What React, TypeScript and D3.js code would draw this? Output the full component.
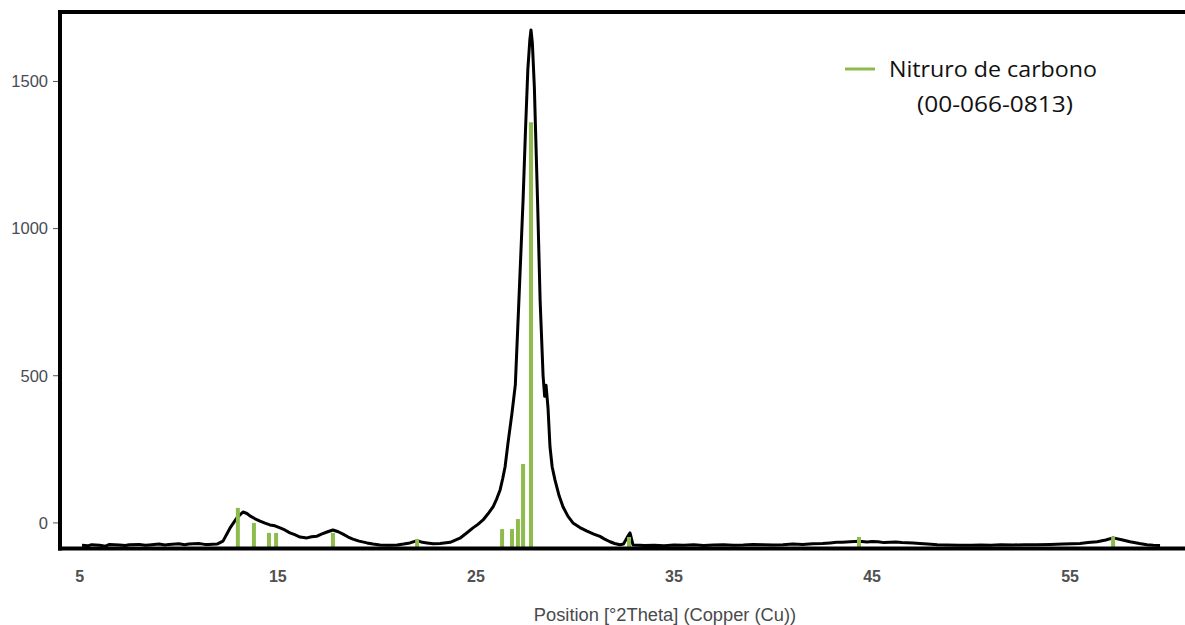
import React from "react";
import * as d3 from "d3";

const patternX: number[] = [
  5.11, 5.4, 5.6, 6.0, 6.3, 6.5, 7.0, 7.3, 7.5, 8.0, 8.3, 8.5, 9.0, 9.3, 9.5, 10.0, 10.3,
  10.5, 11.0, 11.3, 11.5, 11.93, 12.23, 12.58, 12.94, 13.24, 13.44, 13.59, 13.85, 14.1,
  14.35, 14.6, 14.85, 15.11, 15.35, 15.61, 15.85, 16.12, 16.47, 16.7, 16.98, 17.2, 17.48,
  17.78, 18.05, 18.29, 18.55, 18.79, 19.1, 19.5, 19.8, 20.16, 20.6, 21.02, 21.35, 21.67,
  22.03, 22.3, 22.53, 22.85, 23.19, 23.7, 24.19, 24.5, 24.85, 25.1, 25.36, 25.6, 25.86,
  26.05, 26.22, 26.35, 26.47, 26.62, 26.82, 26.99, 27.17, 27.38, 27.5, 27.62, 27.72,
  27.78, 27.85, 27.95, 28.11, 28.24, 28.39, 28.47, 28.54, 28.64, 28.74, 28.85, 28.99,
  29.2, 29.4, 29.65, 29.9, 30.25, 30.61, 30.95, 31.26, 31.5, 31.77, 32.0, 32.27, 32.45,
  32.63, 32.78, 32.93, 33.28, 33.5, 34.0, 34.5, 35.0, 35.5, 36.0, 36.5, 37.0, 37.5, 38.0,
  38.5, 39.0, 39.5, 40.0, 40.5, 41.0, 41.5, 42.0, 42.5, 42.88, 43.2, 43.5, 43.89, 44.1,
  44.34, 44.75, 45.0, 45.3, 45.6, 45.91, 46.2, 46.5, 47.07, 47.4, 47.8, 48.3, 48.78, 49.4,
  50.0, 50.5, 51.0, 51.5, 52.12, 52.7, 53.3, 54.0, 54.64, 55.1, 55.5, 55.9, 56.36, 56.8,
  57.17, 57.6, 58.02, 58.5, 58.88, 59.2, 59.54,
];
const patternY: number[] = [
  -76, -78, -74, -76, -79, -73, -75, -77, -74, -73, -76, -75, -72, -75, -73, -71, -74,
  -72, -70, -73, -73, -72, -62, -18, 18, 37, 32, 24, 14, 6,
  -1, -7, -10, -17, -24, -34, -40, -48, -51, -47, -45, -38, -31,
  -24, -30, -38, -48, -55, -62, -68, -72, -75, -76, -75, -72, -68,
  -60, -66, -68, -71, -70, -66, -52, -36, -17, -5, 10, 30, 54,
  82, 112, 150, 190, 272, 373, 470, 757, 1097, 1330, 1540, 1640,
  1675, 1630, 1480, 1097, 757, 500, 430, 468, 390, 258, 190, 146,
  92, 54, 22, 0, -16, -28, -38, -46, -55, -64, -70, -74, -72,
  -50, -34, -75, -76, -77, -76, -78, -75, -76, -74, -77, -75, -74, -76,
  -75, -73, -74, -75, -74, -72, -73, -71, -70, -68, -66, -66, -64, -63,
  -62, -65, -63, -64, -67, -66, -65, -67, -68, -70, -72, -74, -75, -76,
  -76, -75, -76, -74, -75, -74, -74, -73, -72, -71, -70, -67, -64, -58,
  -51, -57, -64, -70, -74, -76, -77,
];

// Reference pattern sticks: Nitruro de carbono (00-066-0813)
const stickX: number[] = [12.98, 13.79, 14.55, 14.91, 17.78, 22.03, 26.32, 26.82, 27.12, 27.38, 27.78, 32.73, 44.34, 57.17];
const stickY: number[] = [51, 0, -34, -34, -34, -55, -21, -21, 13, 200, 1361, -48, -48, -48];

const xTicks: number[] = [5, 15, 25, 35, 45, 55];
const yTicks: number[] = [0, 500, 1000, 1500];

const xTitle = "Position [°2Theta] (Copper (Cu))";
const legendLine1 = "Nitruro de carbono";
const legendLine2 = "(00-066-0813)";

const W = 1185;
const H = 625;
const GREEN = "#8DBB4C";

export default function App() {
  const x = d3.scaleLinear().domain([4, 60.8]).range([60, 1185]);
  const y = d3.scaleLinear().domain([-87, 1736]).range([548.5, 12]);
  const yBase = y.domain()[0];

  const pts: [number, number][] = patternX.map((v, i) => [v, patternY[i]]);
  const line = d3
    .line<[number, number]>()
    .x((d) => x(d[0]))
    .y((d) => y(d[1]));

  const labelFont = "'Liberation Sans', Arial, sans-serif";
  const legendFont = "'Open Sans', 'Noto Sans', sans-serif";

  return (
    <svg
      width={W}
      height={H}
      style={{ position: "absolute", left: 0, top: 0, background: "#fff" }}
    >
      <rect x={0} y={0} width={W} height={H} fill="#fff" />
      {/* pattern */}
      <path
        d={line(pts) || ""}
        fill="none"
        stroke="#000"
        strokeWidth={3}
        strokeLinejoin="round"
      />
      {/* sticks */}
      {stickX.map((sx, i) => (
        <line
          key={i}
          x1={x(sx)}
          x2={x(sx)}
          y1={y(yBase)}
          y2={y(stickY[i])}
          stroke={GREEN}
          strokeWidth={4}
        />
      ))}
      {/* frame */}
      <line x1={58} x2={W} y1={12} y2={12} stroke="#000" strokeWidth={4} />
      <line x1={60} x2={60} y1={10} y2={550.5} stroke="#000" strokeWidth={4} />
      <line x1={58} x2={W} y1={548.5} y2={548.5} stroke="#000" strokeWidth={4} />
      {/* y ticks */}
      {yTicks.map((t) => (
        <g key={t}>
          <line x1={53} x2={58} y1={y(t)} y2={y(t)} stroke="#555" strokeWidth={1} />
          <text
            x={48}
            y={y(t)}
            dy="0.35em"
            textAnchor="end"
            fontFamily={labelFont}
            fontSize={16.5}
            fill="#4a4a55"
          >
            {t}
          </text>
        </g>
      ))}
      {/* x ticks */}
      {xTicks.map((t) => (
        <text
          key={t}
          x={x(t)}
          y={576}
          dy="0.35em"
          textAnchor="middle"
          fontFamily={labelFont}
          fontWeight="bold"
          fontSize={16}
          fill="#505050"
        >
          {t}
        </text>
      ))}
      <text
        x={665}
        y={615}
        dy="0.35em"
        textAnchor="middle"
        fontFamily={labelFont}
        fontSize={18.3}
        fill="#4a4a4a"
      >
        {xTitle}
      </text>
      {/* legend */}
      <line x1={845} x2={875} y1={69} y2={69} stroke={GREEN} strokeWidth={3} />
      <text
        x={889}
        y={77}
        fontFamily={legendFont}
        fontSize={22}
        fill="#111"
        textLength={208}
        lengthAdjust="spacingAndGlyphs"
      >
        {legendLine1}
      </text>
      <text
        x={917}
        y={112}
        fontFamily={legendFont}
        fontSize={22}
        fill="#111"
        textLength={156}
        lengthAdjust="spacingAndGlyphs"
      >
        {legendLine2}
      </text>
    </svg>
  );
}
